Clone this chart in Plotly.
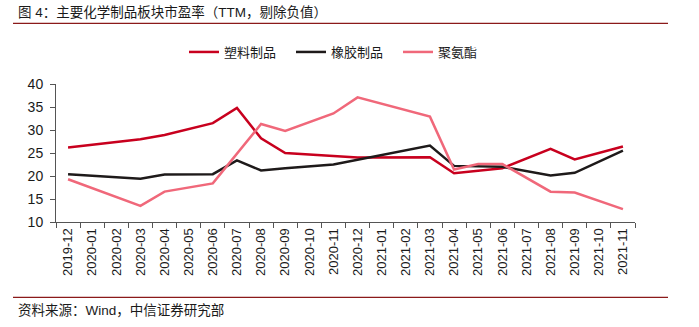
import plotly.graph_objects as go

months = ["2019-12", "2020-01", "2020-02", "2020-03", "2020-04", "2020-05", "2020-06",
          "2020-07", "2020-08", "2020-09", "2020-10", "2020-11", "2020-12",
          "2021-01", "2021-02", "2021-03", "2021-04", "2021-05", "2021-06",
          "2021-07", "2021-08", "2021-09", "2021-10", "2021-11"]

plastic = [26.2, None, None, 28.0, 28.9, None, 31.5, 34.8, 28.2, 25.0, None, 24.3, 24.0,
           None, None, 24.1, 20.6, None, 21.7, None, 25.9, 23.6, None, 26.4]
rubber = [20.4, None, None, 19.4, 20.3, None, 20.4, 23.4, 21.2, 21.7, None, 22.5, None,
          None, None, 26.6, 22.2, None, 22.0, None, 20.1, 20.7, None, 25.5]
pu = [19.3, None, None, 13.5, 16.6, None, 18.4, None, 31.3, 29.8, None, 33.6, 37.1,
      None, None, 32.9, 21.4, 22.6, 22.6, None, 16.6, 16.4, None, 12.8]

names = ["塑料制品", "橡胶制品", "聚氨酯"]
colors = ["#C8001E", "#1E1A1A", "#F0687A"]

FONT = "Liberation Sans, Arial, Noto Sans CJK SC"

fig = go.Figure()
for name, vals, c in zip(names, [plastic, rubber, pu], colors):
    fig.add_trace(go.Scatter(x=months, y=vals, name=name, mode="lines",
                             connectgaps=True, line=dict(color=c, width=2.5)))

L, R, T, B = 56, 635, 84, 222
W, H = R - L, B - T
def px(x):
    return (x - L) / W
def py(y):
    return (B - y) / H

fig.update_layout(
    width=699, height=327,
    margin=dict(l=L, r=699 - R, t=T, b=327 - B),
    paper_bgcolor="white", plot_bgcolor="white",
    font=dict(family=FONT, size=13, color="#1a1a1a"),
    showlegend=True,
    legend=dict(orientation="h", x=px(184), xanchor="left", y=py(52), yanchor="middle",
                font=dict(size=13, family="Noto Sans CJK SC"), itemwidth=30,
                entrywidth=62, entrywidthmode="pixels",
                bgcolor="rgba(0,0,0,0)"),
    xaxis=dict(type="category", range=[-0.5, 23.5], tickson="boundaries",
               ticks="outside", ticklen=5, tickcolor="#555", showline=True,
               linecolor="#555", linewidth=1, showgrid=False, tickangle=-90,
               tickfont=dict(size=13, family=FONT)),
    yaxis=dict(range=[10, 40], dtick=5, ticks="outside", ticklen=5, tickcolor="#555",
               showline=True, linecolor="#555", linewidth=1, showgrid=False,
               zeroline=False, ticklabelstandoff=4, tickfont=dict(size=14, family=FONT)),
    annotations=[
        dict(text="图 4：主要化学制品板块市盈率（TTM，剔除负值）", xref="paper", yref="paper",
             x=px(16), y=py(12), xanchor="left", yanchor="middle", showarrow=False,
             font=dict(size=13.5, family=FONT, color="#1a1a1a")),
        dict(text="资料来源：Wind，中信证券研究部", xref="paper", yref="paper",
             x=px(16), y=py(310), xanchor="left", yanchor="middle", showarrow=False,
             font=dict(size=13.5, family=FONT, color="#1a1a1a")),
    ],
    shapes=[
        dict(type="line", xref="paper", yref="paper", x0=px(13), x1=px(668),
             y0=py(23.3), y1=py(23.3), line=dict(color="#8B1A1A", width=1.2)),
        dict(type="line", xref="paper", yref="paper", x0=px(13), x1=px(668),
             y0=py(297.3), y1=py(297.3), line=dict(color="#8B1A1A", width=1.2)),
    ],
)

fig.write_html("out.html")
